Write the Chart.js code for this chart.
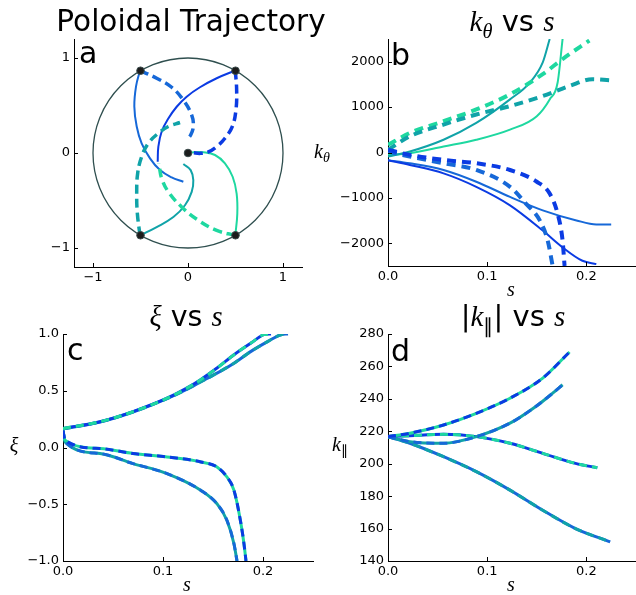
<!DOCTYPE html>
<html><head><meta charset="utf-8">
<script src="https://cdn.jsdelivr.net/npm/chart.js@4.4.0/dist/chart.umd.min.js"></script>
<style>
html,body{margin:0;padding:0;background:#fff;overflow:hidden;}
#wrap{position:relative;width:636px;height:595px;background:#fff;}
canvas{position:absolute;}
.t{position:absolute;white-space:nowrap;font-family:"DejaVu Sans";color:#000;transform:translateX(-50%);z-index:5;}
.m{font-family:"Liberation Serif";font-style:italic;}
.sub{font-size:0.7em;position:relative;top:0.3em;}
</style></head><body><div id="wrap">
<canvas id="ca"></canvas><canvas id="cb"></canvas><canvas id="cc"></canvas><canvas id="cd"></canvas>
</div>
<script>
// ---------- colours ----------
const colBlue = '#0b3be3', colAzure = '#1668d8', colTeal = '#10a3a8', colGreen = '#1ed8a0';

// ---------- panel a: poloidal trajectory ----------
const polTicks = [-1, 0, 1];
const startX = [0, 0.5, -0.5, -0.5, 0.5];
const startY = [0, 0.866, 0.866, -0.866, -0.866];
const circleRadius = 1;
const polSolidBlueX = [0.498, 0.302, 0.126, -0.014, -0.119, -0.207, -0.277, -0.312, -0.319];
const polSolidBlueY = [0.868, 0.787, 0.692, 0.593, 0.487, 0.363, 0.226, 0.067, -0.092];
const polDashBlueX = [0.498, 0.512, 0.505, 0.467, 0.389, 0.302, 0.214, 0.126, 0.039, 0];
const polDashBlueY = [0.868, 0.667, 0.455, 0.279, 0.155, 0.067, 0.011, -0.004, 0.004, 0];
const polSolidAzureX = [-0.505, -0.547, -0.565, -0.540, -0.488, -0.400, -0.295, -0.172, -0.049];
const polSolidAzureY = [0.868, 0.702, 0.490, 0.279, 0.102, -0.056, -0.180, -0.257, -0.303];
const polDashAzureX = [-0.505, -0.330, -0.172, -0.049, 0.039, 0.056, 0.028, -0.014];
const polDashAzureY = [0.868, 0.787, 0.692, 0.557, 0.399, 0.279, 0.190, 0.138];
const polSolidTealX = [-0.505, -0.330, -0.154, -0.032, 0.039, 0.056, 0.028, -0.049];
const polSolidTealY = [-0.868, -0.780, -0.674, -0.550, -0.409, -0.286, -0.180, -0.116];
const polDashTealX = [-0.505, -0.533, -0.540, -0.530, -0.488, -0.418, -0.312, -0.207, -0.084];
const polDashTealY = [-0.868, -0.638, -0.427, -0.215, -0.039, 0.102, 0.208, 0.279, 0.321];
const polSolidGreenX = [0.498, 0.519, 0.512, 0.470, 0.389, 0.284, 0.161, 0.056, 0];
const polSolidGreenY = [-0.868, -0.638, -0.427, -0.250, -0.109, -0.021, 0.007, 0.007, 0];
const polDashGreenX = [0.498, 0.302, 0.109, -0.067, -0.207, -0.277, -0.302, -0.309];
const polDashGreenY = [-0.868, -0.815, -0.709, -0.568, -0.409, -0.268, -0.145, -0.109];

// ---------- panel b: k_theta vs s ----------
const sTicks = [0, 0.1, 0.2];
const kthTicks = [-2000, -1000, 0, 1000, 2000];
const kthSolidBlueS = [0, 0.022, 0.056, 0.089, 0.123, 0.156, 0.176, 0.196, 0.210];
const kthSolidBlue = [-170, -274, -459, -756, -1163, -1719, -2089, -2385, -2459];
const kthSolidAzureS = [0, 0.022, 0.056, 0.089, 0.123, 0.156, 0.190, 0.210, 0.225];
const kthSolidAzure = [-170, -237, -385, -644, -978, -1274, -1496, -1585, -1585];
const kthDashBlueS = [0, 0.022, 0.056, 0.089, 0.123, 0.150, 0.163, 0.171, 0.176, 0.178];
const kthDashBlue = [59, -52, -163, -237, -385, -644, -904, -1348, -1941, -2500];
const kthDashAzureS = [0, 0.022, 0.056, 0.089, 0.123, 0.139, 0.153, 0.161, 0.166];
const kthDashAzure = [22, -89, -237, -385, -756, -1126, -1496, -1941, -2500];
const kthSolidTealS = [0, 0.022, 0.056, 0.089, 0.123, 0.143, 0.156, 0.163];
const kthSolidTeal = [-89, 22, 281, 652, 1170, 1541, 1985, 2500];
const kthSolidGreenS = [0, 0.022, 0.056, 0.089, 0.123, 0.150, 0.163, 0.171, 0.176];
const kthSolidGreen = [-52, -15, 133, 281, 504, 800, 1170, 1541, 2500];
const kthDashGreenS = [0, 0.022, 0.056, 0.089, 0.123, 0.156, 0.176, 0.203];
const kthDashGreen = [170, 430, 689, 948, 1281, 1726, 2059, 2467];
const kthDashTealS = [0, 0.022, 0.056, 0.089, 0.123, 0.156, 0.183, 0.206, 0.223];
const kthDashTeal = [59, 356, 615, 837, 1022, 1244, 1467, 1615, 1593];

// ---------- panel c: xi vs s ----------
const xiTicks = [-1, -0.5, 0, 0.5, 1];
const xiUpperAS = [0, 0.037, 0.070, 0.104, 0.121, 0.138, 0.154, 0.171, 0.188, 0.201, 0.208];
const xiUpperA = [0.168, 0.227, 0.316, 0.434, 0.51, 0.60, 0.70, 0.817, 0.920, 0.994, 1.0];
const xiUpperBS = [0, 0.037, 0.070, 0.104, 0.121, 0.138, 0.154, 0.171, 0.188, 0.205, 0.218, 0.225];
const xiUpperB = [0.165, 0.225, 0.313, 0.430, 0.50, 0.58, 0.655, 0.743, 0.847, 0.935, 0.994, 1.0];
const xiLowerCS = [0, 0.002, 0.037, 0.070, 0.104, 0.138, 0.154, 0.164, 0.171, 0.178, 0.181, 0.183];
const xiLowerC = [0.15, 0.065, -0.009, -0.053, -0.083, -0.127, -0.171, -0.26, -0.378, -0.673, -0.85, -1.0];
const xiLowerDS = [0, 0.002, 0.037, 0.070, 0.104, 0.138, 0.154, 0.164, 0.171, 0.174];
const xiLowerD = [0.15, 0.05, -0.053, -0.142, -0.230, -0.378, -0.496, -0.643, -0.850, -1.0];

// ---------- panel d: |k_par| vs s ----------
const kparTicks = [140, 160, 180, 200, 220, 240, 260, 280];
const kparCS = [0, 0.022, 0.056, 0.089, 0.123, 0.156, 0.183];
const kparC = [216.7, 218.8, 223.9, 231.1, 240.4, 252.8, 268.9];
const kparDS = [0, 0.022, 0.056, 0.089, 0.123, 0.149, 0.166, 0.176];
const kparD = [216.7, 213.6, 212.6, 216.7, 225, 235.3, 243.5, 248.7];
const kparAS = [0, 0.022, 0.056, 0.089, 0.123, 0.156, 0.189, 0.211];
const kparA = [216.7, 217.3, 218.1, 216.7, 212.6, 206.4, 200.2, 197.5];
const kparBS = [0, 0.022, 0.056, 0.089, 0.123, 0.156, 0.189, 0.224];
const kparB = [216.7, 212.6, 204.3, 195.1, 183.7, 171.3, 160.0, 151.8];

// ---------- helpers ----------
const pts = (xs, ys) => xs.map((x, i) => ({x, y: ys[i]}));
const minus = v => (v < 0 ? '\u2212' + Math.abs(v) : String(v));
const minus1 = v => (v < 0 ? '\u2212' : '') + Math.abs(v).toFixed(1);
const fix1 = v => v.toFixed(1);

function line(xs, ys, color, dashed, opts = {}) {
  return Object.assign({
    data: pts(xs, ys), showLine: true, borderColor: color, backgroundColor: color,
    borderWidth: dashed ? 3.5 : 2, borderDash: dashed ? [9, 5] : [],
    pointRadius: 0, fill: false, order: dashed ? 1 : 2,
    cubicInterpolationMode: 'monotone', borderCapStyle: 'butt'
  }, opts);
}

const inTicks = {
  id: 'inTicks',
  afterDraw(chart) {
    const ctx = chart.ctx, a = chart.chartArea, xs = chart.scales.x, ys = chart.scales.y;
    ctx.save(); ctx.strokeStyle = '#000'; ctx.lineWidth = 1; ctx.beginPath();
    xs.ticks.forEach(t => { const p = Math.round(xs.getPixelForValue(t.value)) + 0.5; ctx.moveTo(p, a.bottom); ctx.lineTo(p, a.bottom - 4); });
    ys.ticks.forEach(t => { const p = Math.round(ys.getPixelForValue(t.value)) + 0.5; ctx.moveTo(a.left, p); ctx.lineTo(a.left + 4, p); });
    ctx.stroke(); ctx.restore();
  }
};
const circlePlugin = {
  id: 'circle',
  beforeDatasetsDraw(chart) {
    const ctx = chart.ctx, xs = chart.scales.x, ys = chart.scales.y;
    const cx = xs.getPixelForValue(startX[0]), cy = ys.getPixelForValue(startY[0]);
    const rx = xs.getPixelForValue(circleRadius) - cx, ry = cy - ys.getPixelForValue(circleRadius);
    ctx.save(); ctx.strokeStyle = '#2f4f4f'; ctx.lineWidth = 1.3; ctx.beginPath();
    ctx.ellipse(cx, cy, rx, ry, 0, 0, 2 * Math.PI); ctx.stroke(); ctx.restore();
  }
};

function axis(min, max, ticks, fmt, isX, size) {
  return {
    type: 'linear', min, max,
    afterBuildTicks: s => { s.ticks = ticks.map(v => ({value: v})); },
    afterFit: s => { if (isX) s.height = size; else s.width = size; },
    grid: {display: false, drawTicks: false},
    border: {display: true, color: '#000', width: 1},
    ticks: {color: '#000', font: {family: 'DejaVu Sans', size: 13}, padding: isX ? 3 : 4,
            maxRotation: 0, autoSkip: false, callback: fmt}
  };
}

function makeChart(id, area, yW, xH, padTop, padRight, xAx, yAx, datasets, plugins) {
  const cv = document.getElementById(id);
  const left = area.l - yW, top = area.t - padTop;
  cv.width = area.r + padRight - left; cv.height = area.b + xH - top;
  cv.style.left = left + 'px'; cv.style.top = top + 'px';
  cv.style.width = cv.width + 'px'; cv.style.height = cv.height + 'px';
  return new Chart(cv, {
    type: 'scatter',
    data: {datasets},
    options: {
      responsive: false, devicePixelRatio: 1, animation: false, events: [],
      layout: {padding: {top: padTop, right: padRight, left: 0, bottom: 0}},
      plugins: {legend: {display: false}, tooltip: {enabled: false}},
      scales: {x: axis(xAx[0], xAx[1], xAx[2], xAx[3], true, xH), y: axis(yAx[0], yAx[1], yAx[2], yAx[3], false, yW)}
    },
    plugins: [inTicks].concat(plugins || [])
  });
}

// ---------- panel a ----------
const aT = {tension: 0.4, cubicInterpolationMode: 'default'};
makeChart('ca', {l: 74, t: 39, r: 302, b: 267}, 50, 24, 12, 12,
  [-1.2, 1.2, polTicks, minus], [-1.2, 1.2, polTicks, minus], [
  {data: pts(startX, startY), pointRadius: 3.8, pointBackgroundColor: '#1c1c1c', pointBorderColor: '#3a4a4a', pointBorderWidth: 1, showLine: false, order: 0},
  line(polSolidBlueX, polSolidBlueY, colBlue, false, aT),
  line(polDashBlueX, polDashBlueY, colBlue, true, aT),
  line(polSolidAzureX, polSolidAzureY, colAzure, false, aT),
  line(polDashAzureX, polDashAzureY, colAzure, true, aT),
  line(polSolidTealX, polSolidTealY, colTeal, false, aT),
  line(polDashTealX, polDashTealY, colTeal, true, aT),
  line(polSolidGreenX, polSolidGreenY, colGreen, false, aT),
  line(polDashGreenX, polDashGreenY, colGreen, true, aT)
], [circlePlugin]);

// ---------- panel b ----------
const bD = {borderWidth: 4, borderDash: [9, 6]};
makeChart('cb', {l: 388, t: 39, r: 636, b: 266}, 60, 22, 12, 0,
  [0, 0.25, sTicks, fix1], [-2500, 2500, kthTicks, minus], [
  line(kthSolidBlueS, kthSolidBlue, colBlue, false),
  line(kthSolidAzureS, kthSolidAzure, colAzure, false),
  line(kthSolidTealS, kthSolidTeal, colTeal, false),
  line(kthSolidGreenS, kthSolidGreen, colGreen, false),
  line(kthDashBlueS, kthDashBlue, colBlue, true, bD),
  line(kthDashAzureS, kthDashAzure, colAzure, true, bD),
  line(kthDashTealS, kthDashTeal, colTeal, true, bD),
  line(kthDashGreenS, kthDashGreen, colGreen, true, bD)
]);

// ---------- panel c ----------
const cS = {borderWidth: 3}, cD = {borderWidth: 3, borderDash: [8, 5]};
makeChart('cc', {l: 63, t: 334, r: 313, b: 561}, 55, 22, 12, 8,
  [0, 0.25, sTicks, fix1], [-1, 1, xiTicks, minus1], [
  line(xiUpperAS, xiUpperA, colBlue, false, cS),
  line(xiUpperAS, xiUpperA, colGreen, true, cD),
  line(xiUpperBS, xiUpperB, colAzure, false, cS),
  line(xiUpperBS, xiUpperB, colTeal, true, cD),
  line(xiLowerCS, xiLowerC, colGreen, false, cS),
  line(xiLowerCS, xiLowerC, colBlue, true, cD),
  line(xiLowerDS, xiLowerD, colTeal, false, cS),
  line(xiLowerDS, xiLowerD, colAzure, true, cD)
]);

// ---------- panel d ----------
makeChart('cd', {l: 388, t: 334, r: 636, b: 561}, 60, 22, 12, 0,
  [0, 0.25, sTicks, fix1], [140, 280, kparTicks, minus], [
  line(kparCS, kparC, colGreen, false, cS),
  line(kparCS, kparC, colBlue, true, cD),
  line(kparDS, kparD, colTeal, false, cS),
  line(kparDS, kparD, colAzure, true, cD),
  line(kparAS, kparA, colBlue, false, cS),
  line(kparAS, kparA, colGreen, true, cD),
  line(kparBS, kparB, colAzure, false, cS),
  line(kparBS, kparB, colTeal, true, cD)
]);

// ---------- text ----------
const wrap = document.getElementById('wrap');
function label(html, x, base, size, align) {
  const d = document.createElement('div'); d.className = 't'; d.innerHTML = html;
  d.style.fontSize = size + 'px'; d.style.lineHeight = size + 'px';
  d.style.left = x + 'px'; d.style.top = (base - 0.846 * size) + 'px';
  if (align === 'left') d.style.transform = 'none';
  wrap.appendChild(d);
}
label('Poloidal Trajectory', 191, 32, 29.5);
label('<span class="m">k</span><span class="m sub">\u03b8</span> vs <span class="m">s</span>', 512, 32, 29);
label('<span class="m">\u03be</span> vs <span class="m">s</span>', 186, 327, 28.5);
label('|<span class="m">k</span><span class="sub">\u2225</span>| vs <span class="m">s</span>', 513, 327, 29);
label('a', 79, 63, 30, 'left');
label('b', 391, 65, 30, 'left');
label('c', 67, 360, 30, 'left');
label('d', 391, 361, 30, 'left');
label('<span class="m">k</span><span class="m sub">\u03b8</span>', 322, 158, 20);
label('<span class="m">\u03be</span>', 14, 452, 20);
label('<span class="m">k</span><span class="sub">\u2225</span>', 340, 451, 20);
label('<span class="m">s</span>', 511, 296, 20);
label('<span class="m">s</span>', 187, 591, 20);
label('<span class="m">s</span>', 511, 591, 20);
</script>
</body></html>
